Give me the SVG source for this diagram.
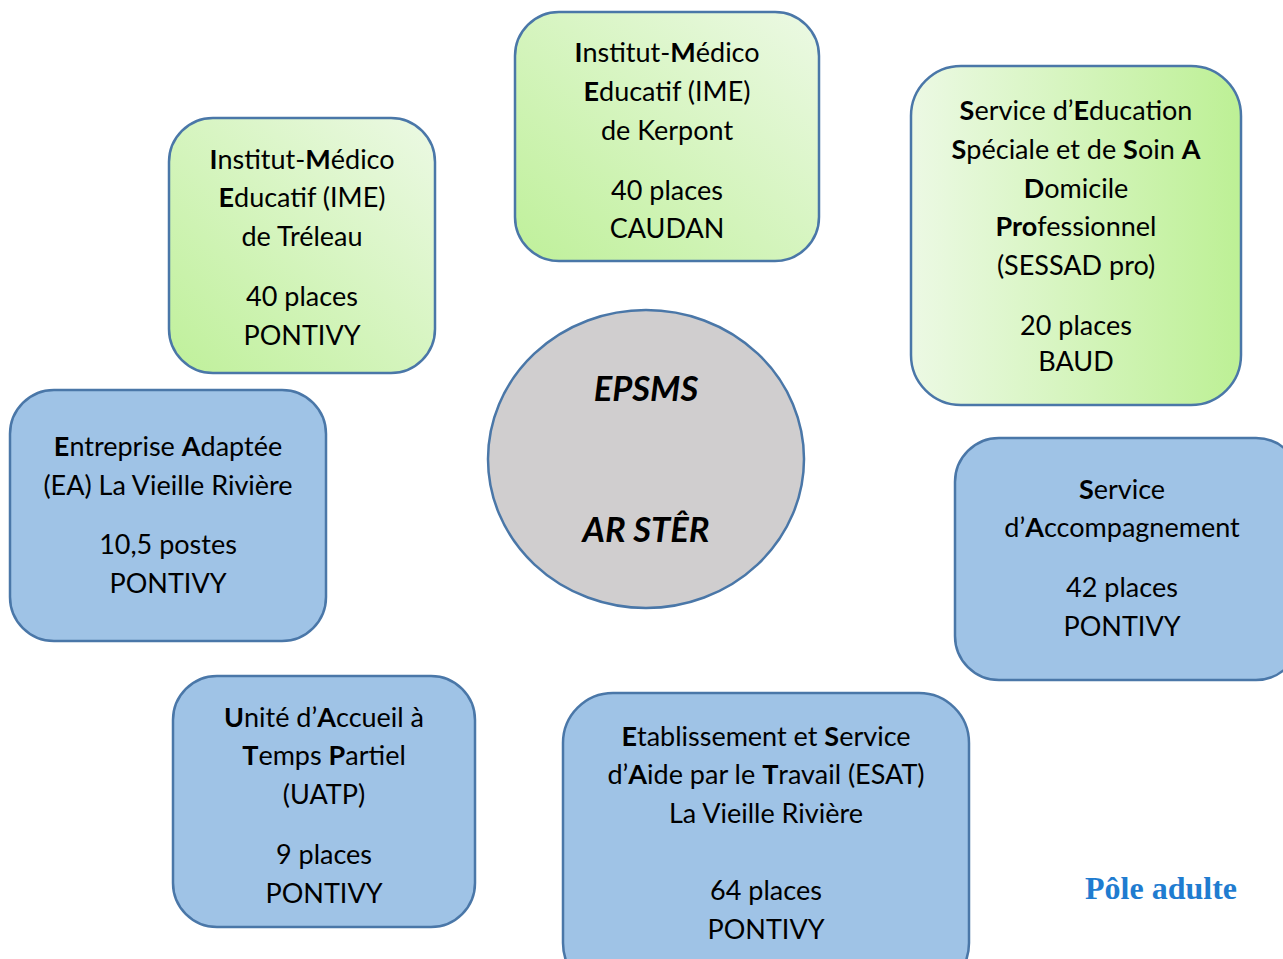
<svg xmlns="http://www.w3.org/2000/svg" width="1283" height="959" viewBox="0 0 1283 959">
<defs>
<linearGradient id="gDiag" x1="0" y1="1" x2="1" y2="0">
<stop offset="0" stop-color="#bff09a"/>
<stop offset="1" stop-color="#ecf9e4"/>
</linearGradient>
<linearGradient id="gHoriz" x1="0" y1="0" x2="1" y2="0">
<stop offset="0" stop-color="#ecf9e4"/>
<stop offset="1" stop-color="#bdf095"/>
</linearGradient>
<style>
.box{stroke:#4a77a8;stroke-width:2.5}
.blue{fill:#9fc3e6}
.t{font-family:Lato,"Open Sans","Liberation Sans",sans-serif;font-size:27px;fill:#000;text-anchor:middle}
.b{font-weight:bold}
.c{font-family:Lato,"Open Sans","Liberation Sans",sans-serif;font-size:34.5px;font-weight:bold;font-style:italic;fill:#000;text-anchor:middle}
.pole{font-family:"Liberation Serif","Times New Roman",serif;font-size:32px;font-weight:bold;fill:#1f7cd0}
</style>
</defs>
<rect width="1283" height="959" fill="#fff"/>
<g id="connectors"></g>
<g id="center">
<ellipse cx="646" cy="459" rx="158" ry="149" fill="#d0cecf" stroke="#4a77a8" stroke-width="2.5"/>
<text class="c" x="646" y="401">EPSMS</text>
<text class="c" x="646" y="542">AR STÊR</text>
</g>
<g id="ime-treleau">
<rect class="box" x="169" y="118" width="266" height="255" rx="44" fill="url(#gDiag)"/>
<text class="t" x="302" y="169"><tspan class="b">I</tspan>nstitut-<tspan class="b">M</tspan>édico</text>
<text class="t" x="302" y="207"><tspan class="b">E</tspan>ducatif (IME)</text>
<text class="t" x="302" y="246">de Tréleau</text>
<text class="t" x="302" y="306">40 places</text>
<text class="t" x="302" y="345">PONTIVY</text>
</g>
<g id="ime-kerpont">
<rect class="box" x="515" y="12" width="304" height="249" rx="44" fill="url(#gDiag)"/>
<text class="t" x="667" y="62"><tspan class="b">I</tspan>nstitut-<tspan class="b">M</tspan>édico</text>
<text class="t" x="667" y="101"><tspan class="b">E</tspan>ducatif (IME)</text>
<text class="t" x="667" y="140">de Kerpont</text>
<text class="t" x="667" y="200">40 places</text>
<text class="t" x="667" y="238">CAUDAN</text>
</g>
<g id="sessad">
<rect class="box" x="911" y="66" width="330" height="339" rx="50" fill="url(#gHoriz)"/>
<text class="t" x="1076" y="120"><tspan class="b">S</tspan>ervice d’<tspan class="b">E</tspan>ducation</text>
<text class="t" x="1076" y="159"><tspan class="b">S</tspan>péciale et de <tspan class="b">S</tspan>oin <tspan class="b">A</tspan></text>
<text class="t" x="1076" y="198"><tspan class="b">D</tspan>omicile</text>
<text class="t" x="1076" y="236"><tspan class="b">Pro</tspan>fessionnel</text>
<text class="t" x="1076" y="275">(SESSAD pro)</text>
<text class="t" x="1076" y="335">20 places</text>
<text class="t" x="1076" y="371">BAUD</text>
</g>
<g id="ea">
<rect class="box blue" x="10" y="390" width="316" height="251" rx="44"/>
<text class="t" x="168" y="456"><tspan class="b">E</tspan>ntreprise <tspan class="b">A</tspan>daptée</text>
<text class="t" x="168" y="495">(EA) La Vieille Rivière</text>
<text class="t" x="168" y="554">10,5 postes</text>
<text class="t" x="168" y="593">PONTIVY</text>
</g>
<g id="sa">
<rect class="box blue" x="955" y="438" width="345" height="242" rx="44"/>
<text class="t" x="1122" y="499"><tspan class="b">S</tspan>ervice</text>
<text class="t" x="1122" y="537">d’<tspan class="b">A</tspan>ccompagnement</text>
<text class="t" x="1122" y="597">42 places</text>
<text class="t" x="1122" y="636">PONTIVY</text>
</g>
<g id="uatp">
<rect class="box blue" x="173" y="676" width="302" height="251" rx="44"/>
<text class="t" x="324" y="727"><tspan class="b">U</tspan>nité d’<tspan class="b">A</tspan>ccueil à</text>
<text class="t" x="324" y="765"><tspan class="b">T</tspan>emps <tspan class="b">P</tspan>artiel</text>
<text class="t" x="324" y="804">(UATP)</text>
<text class="t" x="324" y="864">9 places</text>
<text class="t" x="324" y="903">PONTIVY</text>
</g>
<g id="esat">
<rect class="box blue" x="563" y="693" width="406" height="300" rx="50"/>
<text class="t" x="766" y="746"><tspan class="b">E</tspan>tablissement et <tspan class="b">S</tspan>ervice</text>
<text class="t" x="766" y="784">d’<tspan class="b">A</tspan>ide par le <tspan class="b">T</tspan>ravail (ESAT)</text>
<text class="t" x="766" y="823">La Vieille Rivière</text>
<text class="t" x="766" y="900">64 places</text>
<text class="t" x="766" y="939">PONTIVY</text>
</g>
<g id="title">
<text class="pole" x="1085" y="899">Pôle adulte</text>
</g>
</svg>
